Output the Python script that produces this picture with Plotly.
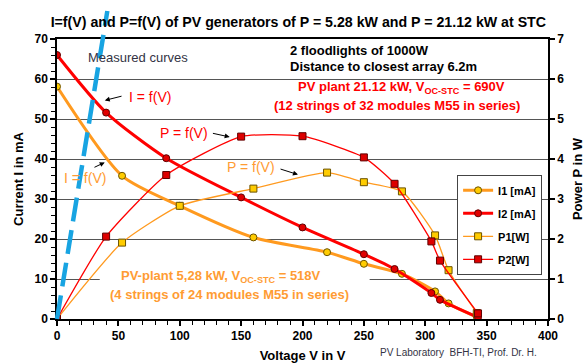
import plotly.graph_objects as go

# ---- measured data ----------------------------------------------------
# 5.28 kW generator (4 strings x 24 modules)
v1 = [0, 53, 100, 160, 220, 250, 281, 308, 319, 342]
i1_ma = [58.1, 35.8, 28.3, 20.4, 16.7, 13.8, 11.3, 6.9, 3.9, 0.5]
p1_w = [0, 1.91, 2.83, 3.26, 3.66, 3.42, 3.19, 2.09, 1.22, 0.15]

# 21.12 kW generator (12 strings x 32 modules)
v2 = [0, 40, 89, 150, 200, 250, 275, 305, 312, 343]
i2_ma = [66, 51.6, 40.2, 30.4, 22.9, 16.2, 12.5, 6.5, 4.8, 0.4]
p2_w = [0, 2.06, 3.60, 4.56, 4.57, 4.04, 3.38, 1.94, 1.46, 0.14]

# reference line of the measuring set-up (V, mA)
ref_v = [0, 41]
ref_i = [0, 77]

x_range = [0, 400]
i_range = [0, 70]
p_range = [0, 7]

FONT = "Liberation Sans, Arial, sans-serif"
ORANGE = "#ff9a1f"
RED = "#ff0000"
TXT_ORANGE = "#ff9c33"

fig = go.Figure()

fig.add_trace(go.Scatter(
    x=v1, y=i1_ma, name="I1 [mA]", mode="lines+markers",
    line=dict(color=ORANGE, width=3, shape="spline", smoothing=0.7),
    marker=dict(symbol="circle", size=7, color="#ffcc00",
                line=dict(color="#6b5200", width=1)),
    legendgroup="a"))
fig.add_trace(go.Scatter(
    x=v2, y=i2_ma, name="I2 [mA]", mode="lines+markers",
    line=dict(color=RED, width=3, shape="spline", smoothing=0.7),
    marker=dict(symbol="circle", size=7, color="#e00000",
                line=dict(color="#600000", width=1)),
    legendgroup="b"))
fig.add_trace(go.Scatter(
    x=v1, y=p1_w, name="P1[W]", mode="lines+markers", yaxis="y2",
    line=dict(color=ORANGE, width=1.3, shape="spline", smoothing=0.55),
    marker=dict(symbol="square", size=7, color="#ffcc00",
                line=dict(color="#6b5200", width=1)),
    legendgroup="c"))
fig.add_trace(go.Scatter(
    x=v2, y=p2_w, name="P2[W]", mode="lines+markers", yaxis="y2",
    line=dict(color=RED, width=1.3, shape="spline", smoothing=0.55),
    marker=dict(symbol="square", size=7, color="#dd0000",
                line=dict(color="#600000", width=1)),
    legendgroup="d"))

tickfont = dict(family=FONT, size=12, color="black", weight="bold")
titlefont = dict(family=FONT, size=13, color="black", weight="bold")

fig.update_layout(
    width=585, height=363,
    margin=dict(l=57, r=37, t=39, b=44),
    paper_bgcolor="white", plot_bgcolor="white",
    font=dict(family=FONT, color="black"),
    showlegend=True,
    legend=dict(x=0.988, y=0.515, xanchor="right", yanchor="top",
                bgcolor="white", bordercolor="#444", borderwidth=1,
                font=dict(family=FONT, size=11, color="black", weight="bold"),
                tracegroupgap=4, itemwidth=30),
    xaxis=dict(range=x_range, dtick=50, showgrid=False, zeroline=False,
               automargin=False,
               showline=True, linecolor="black", linewidth=1.5, mirror=True,
               ticks="outside", ticklen=5, tickwidth=1.5, tickcolor="black",
               minor=dict(dtick=10, ticks="outside", ticklen=4,
                          tickcolor="black", tickwidth=1),
               tickfont=tickfont,
               title=dict(text="Voltage V in V", font=titlefont, standoff=10)),
    yaxis=dict(range=i_range, dtick=10, showgrid=True, gridcolor="#555",
               gridwidth=1, zeroline=False, automargin=False,
               showline=True, linecolor="black", linewidth=1.5,
               ticks="outside", ticklen=5, tickwidth=1.5, tickcolor="black",
               minor=dict(dtick=2, ticks="outside", ticklen=4,
                          tickcolor="black", tickwidth=1),
               tickfont=tickfont,
               title=dict(text="Current I in mA", font=titlefont, standoff=8)),
    yaxis2=dict(range=p_range, dtick=1, overlaying="y", side="right",
                showgrid=False, zeroline=False, automargin=False,
                showline=True, linecolor="black", linewidth=1.5,
                ticks="outside", ticklen=5, tickwidth=1.5, tickcolor="black",
                tickfont=tickfont,
                title=dict(text="Power P in W", font=titlefont, standoff=12)),
    # inner halves of the major ticks
    xaxis3=dict(range=x_range, dtick=50, overlaying="x", anchor="y",
                side="bottom", ticks="inside", ticklen=4, tickwidth=1.5,
                tickcolor="black", showticklabels=False, showgrid=False,
                zeroline=False, showline=False, automargin=False),
    yaxis3=dict(range=i_range, dtick=10, overlaying="y", anchor="x",
                side="left", ticks="inside", ticklen=4, tickwidth=1.5,
                tickcolor="black", showticklabels=False, showgrid=False,
                zeroline=False, showline=False, automargin=False),
    yaxis4=dict(range=p_range, dtick=1, overlaying="y", anchor="x",
                side="right", ticks="inside", ticklen=4, tickwidth=1.5,
                tickcolor="black", showticklabels=False, showgrid=False,
                zeroline=False, showline=False, automargin=False),
)

# blue reference line, extending above the frame
fig.add_shape(type="line", xref="paper", yref="paper",
              x0=ref_v[0] / x_range[1], y0=ref_i[0] / i_range[1],
              x1=ref_v[1] / x_range[1], y1=ref_i[1] / i_range[1],
              line=dict(color="#18a4e2", width=4.5, dash="24px,9px"),
              layer="above")

# white patch behind the 5.28 kW description
fig.add_shape(type="rect", xref="x", yref="y", x0=34.8, x1=254.7,
              y0=8, y1=12, fillcolor="white", line=dict(width=0),
              layer="between")


def note(text, x, y, color, size=13, bold=True, xanchor="center"):
    fig.add_annotation(text=text, x=x, y=y, xref="x", yref="y",
                       showarrow=False, xanchor=xanchor, yanchor="middle",
                       font=dict(family=FONT, size=size, color=color,
                                 weight="bold" if bold else "normal"))


def arrow(x0, y0, x1, y1):
    fig.add_annotation(text="", x=x1, y=y1, ax=x0, ay=y0,
                       xref="x", yref="y", axref="x", ayref="y",
                       showarrow=True, arrowhead=2, arrowsize=1,
                       arrowwidth=1, arrowcolor="black")


note("Measured curves", 23.4, 65.5, "#333344", size=13, bold=False,
     xanchor="left")
note("2 floodlights of 1000W", 188, 67.1, "black", xanchor="left")
note("Distance to closest array 6.2m", 188, 63.15, "black", xanchor="left")
note("PV plant 21.12 kW, V<sub>OC-STC</sub> = 690V", 280.4, 57.9, RED)
note("(12 strings of 32 modules M55 in series)", 276.7, 53.3, RED)
note("PV-plant 5,28 kW, V<sub>OC-STC</sub> = 518V", 133.4, 10.65, TXT_ORANGE)
note("(4 strings of 24 modules M55 in series)", 140.6, 6.1, TXT_ORANGE)

note("I = f(V)", 75.5, 55.4, RED, size=14, bold=False)
arrow(53.8, 55.8, 38.9, 54.65)
note("I = f(V)", 23, 35.3, TXT_ORANGE, size=14, bold=False)
arrow(29.3, 37.75, 38.9, 39.15)
note("P = f(V)", 103.2, 46.6, RED, size=14, bold=False)
arrow(125.8, 46.5, 140.7, 45.5)
note("P = f(V)", 158.4, 37.9, TXT_ORANGE, size=14, bold=False)
arrow(180.9, 37.6, 196.3, 36.1)

fig.add_annotation(
    text="PV Laboratory  BFH-TI, Prof. Dr. H.", xref="paper", yref="paper",
    x=0.6536, y=-0.12, xanchor="left", yanchor="middle", showarrow=False,
    font=dict(family=FONT, size=10, color="#333344"))

fig.update_layout(title=dict(
    text="I=f(V) and P=f(V) of PV generators of P = 5.28 kW and P = 21.12 kW at STC",
    x=0.51, xanchor="center", y=0.94, yanchor="middle",
    font=dict(family=FONT, size=14.2, color="black", weight="bold")))

fig.write_html("out.html")
